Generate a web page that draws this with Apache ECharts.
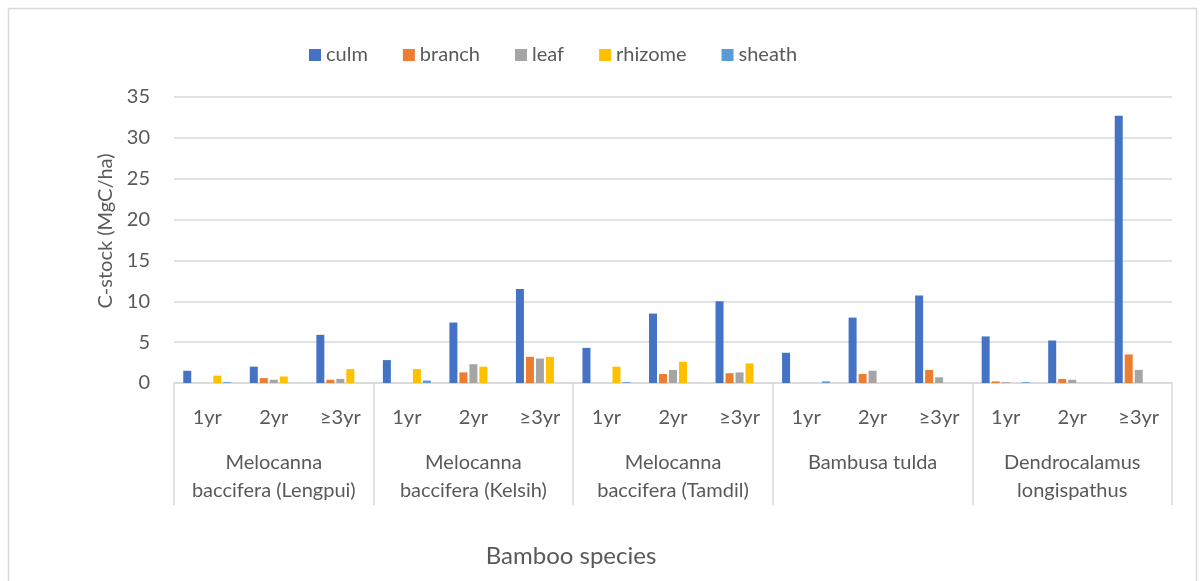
<!DOCTYPE html>
<html>
<head>
<meta charset="utf-8">
<script src="https://cdn.jsdelivr.net/npm/echarts@6/dist/echarts.min.js"></script>
<style>
  html, body { margin: 0; padding: 0; background: #fff; }
  #chart { width: 1203px; height: 581px; }
</style>
</head>
<body>
<div id="chart"></div>
<script>
// Age classes along the inner axis and species groups along the outer axis
const ageClasses = ['1yr', '2yr', '≥3yr'];
const species = [
  'Melocanna\nbaccifera (Lengpui)',
  'Melocanna\nbaccifera (Kelsih)',
  'Melocanna\nbaccifera (Tamdil)',
  'Bambusa tulda',
  'Dendrocalamus\nlongispathus'
];
const yTicks = { min: 0, max: 35, step: 5 };

// C-stock (MgC/ha) per component, one value per species × age class
const culm    = [1.5, 2.0, 5.9,  2.8, 7.4, 11.5,  4.3, 8.5, 10.0,  3.7, 8.0, 10.7,  5.7, 5.2, 32.7];
const branch  = [0,   0.6, 0.4,  0,   1.3, 3.2,   0,   1.1, 1.2,   0,   1.1, 1.6,   0.2, 0.5, 3.5];
const leaf    = [0,   0.4, 0.5,  0,   2.3, 3.0,   0,   1.6, 1.3,   0,   1.5, 0.7,   0.1, 0.4, 1.6];
const rhizome = [0.9, 0.8, 1.7,  1.7, 2.0, 3.2,   2.0, 2.6, 2.4,   0,   0,   0,     0,   0,   0];
const sheath  = [0.1, 0,   0,    0.3, 0,   0,     0.1, 0,   0,     0.2, 0,   0,     0.1, 0,   0];

const components = [
  { name: 'culm',    data: culm,    color: '#4472C4' },
  { name: 'branch',  data: branch,  color: '#ED7D31' },
  { name: 'leaf',    data: leaf,    color: '#A5A5A5' },
  { name: 'rhizome', data: rhizome, color: '#FFC000' },
  { name: 'sheath',  data: sheath,  color: '#5B9BD5' }
];

const FONT = 'Lato, "Open Sans", sans-serif';
const TEXT = '#595959';
const LINE = '#d9d9d9';

const innerCats = [];
species.forEach(() => ageClasses.forEach(a => innerCats.push(a)));

const chart = echarts.init(document.getElementById('chart'), null, { renderer: 'canvas' });

chart.setOption({
  animation: false,
  backgroundColor: '#ffffff',
  textStyle: { fontFamily: FONT },
  grid: { left: 174, right: 31, top: 97, bottom: 198, containLabel: false },
  legend: {
    left: 304,
    top: 40,
    itemWidth: 12,
    itemHeight: 12,
    itemGap: 35,
    icon: 'rect',
    textStyle: { fontSize: 20, color: TEXT, fontFamily: FONT },
    data: components.map(c => c.name)
  },
  xAxis: [
    {
      type: 'category',
      data: innerCats,
      position: 'bottom',
      axisLine: { show: true, lineStyle: { color: LINE, width: 1.5 } },
      axisTick: { show: false },
      axisLabel: { interval: 0, fontSize: 20, color: TEXT, margin: 25, fontFamily: FONT },
      splitLine: { show: false }
    },
    {
      type: 'category',
      data: species,
      position: 'bottom',
      axisLine: { show: false },
      axisTick: { show: true, interval: 0, length: 122, lineStyle: { color: LINE, width: 1.5 } },
      axisLabel: { interval: 0, fontSize: 20, color: TEXT, margin: 66, lineHeight: 28, fontFamily: FONT },
      splitLine: { show: false }
    }
  ],
  yAxis: {
    type: 'value',
    min: yTicks.min,
    max: yTicks.max,
    interval: yTicks.step,
    name: 'C-stock (MgC/ha)',
    nameLocation: 'middle',
    nameRotate: 90,
    nameGap: 56,
    nameTextStyle: { fontSize: 20, color: TEXT, fontFamily: FONT, padding: [0, 0, 0, 18] },
    axisLine: { show: false },
    axisTick: { show: false },
    axisLabel: { fontSize: 20, color: TEXT, margin: 24, fontFamily: FONT },
    splitLine: { show: true, lineStyle: { color: LINE, width: 1.5 } }
  },
  series: components.map(c => ({
    name: c.name,
    type: 'bar',
    xAxisIndex: 0,
    data: c.data,
    barWidth: 8,
    barGap: '25%',
    itemStyle: { color: c.color },
    emphasis: { disabled: true }
  })),
  graphic: [
    {
      type: 'rect',
      shape: { x: 8.5, y: 8.5, width: 1188, height: 620 },
      style: { fill: 'none', stroke: LINE, lineWidth: 1.5 },
      silent: true,
      z: -1
    },
    {
      type: 'text',
      x: 571,
      y: 556,
      style: {
        text: 'Bamboo species',
        font: '24px ' + FONT,
        fill: TEXT,
        align: 'center',
        verticalAlign: 'middle'
      }
    }
  ]
});
</script>
</body>
</html>
